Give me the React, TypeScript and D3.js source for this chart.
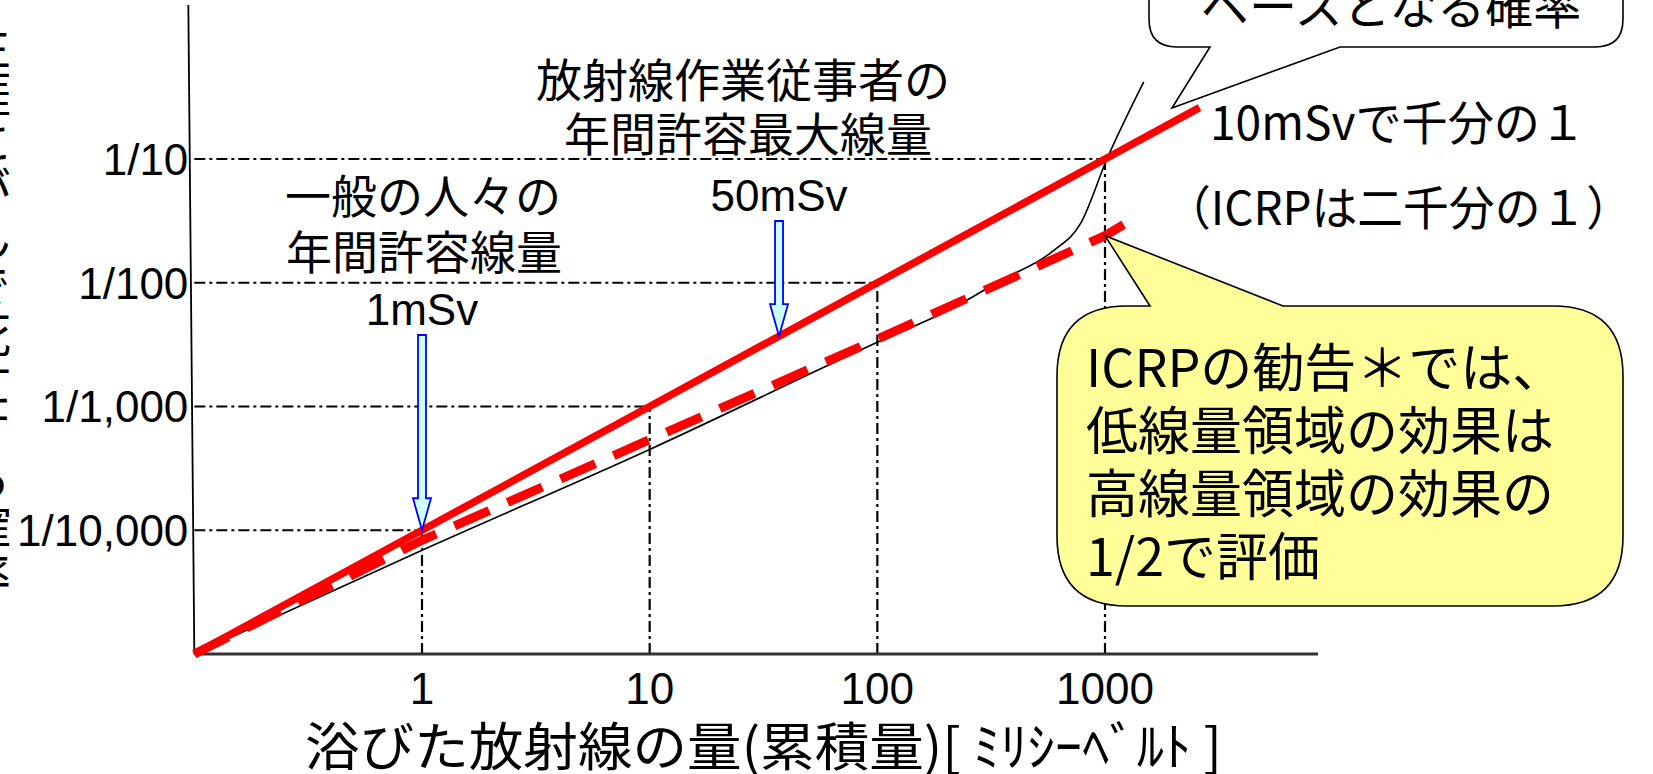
import React from 'react';
import * as d3 from 'd3';

const W = 1653;
const H = 774;

// axis ticks (dose in mSv, risk as probability)
const doseTicks = [1, 10, 100, 1000];
const doseTickLabels = ['1', '10', '100', '1000'];
const riskTicks = [1e-4, 1e-3, 1e-2, 1e-1];
const riskTickLabels = ['1/10,000', '1/1,000', '1/100', '1/10'];

// straight proportional line (solid red)
const lntDose = [0.1, 1, 10, 100, 1000, 2600];
const lntRisk = [1e-5, 1e-4, 1e-3, 1e-2, 1e-1, 0.26];

// ICRP line (dashed red)
const icrpDose = [0.1, 1, 10, 100, 1000, 1300];
const icrpRisk = [1e-5, 8.3e-5, 5.4e-4, 3.5e-3, 0.024, 0.032];

// thin black curve
const curveDose = [0.1, 1, 10, 100, 220, 350, 590, 780, 1020, 1480];
const curveRisk = [1e-5, 6.9e-5, 4.5e-4, 3.3e-3, 6.4e-3, 0.0105, 0.018, 0.03, 0.1, 0.42];

// arrows pointing at the solid line
const arrowDose = [1, 37];
const arrowLabels = ['1mSv', '50mSv'];
const arrowTop = [335, 221];

const jp = '"Noto Sans CJK JP", sans-serif';
const latin = '"Liberation Sans", Arial, sans-serif';

const App: React.FC = () => {
    const x = d3.scaleLog().domain([1, 1000]).range([422, 1105]);
    const y = d3.scaleLog().domain([1e-5, 1e-1]).range([654, 159]);

    const x0 = x(0.1);
    const y0 = y(1e-5);

    const line = d3.line<[number, number]>()
        .x(d => x(d[0]))
        .y(d => y(d[1]));
    const smooth = d3.line<[number, number]>()
        .x(d => x(d[0]))
        .y(d => y(d[1]))
        .curve(d3.curveMonotoneX);

    const lnt = lntDose.map((d, i) => [d, lntRisk[i]] as [number, number]);
    const icrp = icrpDose.map((d, i) => [d, icrpRisk[i]] as [number, number]);
    const curve = curveDose.map((d, i) => [d, curveRisk[i]] as [number, number]);

    // risk on the solid line for a given dose (slope 1 in log-log)
    const lntAt = (dose: number) => dose * 1e-4;

    const arrowPath = (cx: number, top: number, tip: number) => {
        const head = tip - 32;
        return `M${cx - 4},${top} H${cx + 4} V${head} H${cx + 9} L${cx},${tip} L${cx - 9},${head} H${cx - 4} Z`;
    };

    // top callout (white)
    const c1 = { l: 1149, r: 1623, t: -60, b: 47, rad: 28, b1: 1210, b2: 1340, tx: 1172, ty: 108 };
    const callout1 = `M${c1.l + c1.rad},${c1.t} H${c1.r - c1.rad} Q${c1.r},${c1.t} ${c1.r},${c1.t + c1.rad} V${c1.b - c1.rad} Q${c1.r},${c1.b} ${c1.r - c1.rad},${c1.b} H${c1.b2} L${c1.tx},${c1.ty} L${c1.b1},${c1.b} H${c1.l + c1.rad} Q${c1.l},${c1.b} ${c1.l},${c1.b - c1.rad} V${c1.t + c1.rad} Q${c1.l},${c1.t} ${c1.l + c1.rad},${c1.t} Z`;

    // yellow callout pointing at the dashed line at 1000 mSv
    const c2 = { l: 1057, r: 1623, t: 306, b: 606, rad: 70, b1: 1150, b2: 1283 };
    const tip2x = x(1000);
    const tip2y = y(icrpRisk[4]);
    const callout2 = `M${c2.l + c2.rad},${c2.t} H${c2.b1} L${tip2x},${tip2y} L${c2.b2},${c2.t} H${c2.r - c2.rad} Q${c2.r},${c2.t} ${c2.r},${c2.t + c2.rad} V${c2.b - c2.rad} Q${c2.r},${c2.b} ${c2.r - c2.rad},${c2.b} H${c2.l + c2.rad} Q${c2.l},${c2.b} ${c2.l},${c2.b - c2.rad} V${c2.t + c2.rad} Q${c2.l},${c2.t} ${c2.l + c2.rad},${c2.t} Z`;

    const guideStyle = { stroke: '#000', strokeWidth: 2.2, strokeDasharray: '11 4 3 4', fill: 'none' };

    return (
        <svg width={W} height={H} style={{ position: 'absolute', left: 0, top: 0, background: '#fff' }}>
            {/* y axis title, mostly cut off at the left edge */}
            <text x={-13} y={22} fontFamily={jp} fontSize={48} style={{ writingMode: 'vertical-rl' }}>
                生涯にがんで死亡する確率
            </text>

            {/* guides */}
            {doseTicks.map((d, i) => (
                <g key={d}>
                    <line x1={x0} x2={x(d)} y1={y(riskTicks[i])} y2={y(riskTicks[i])} style={guideStyle} />
                    <line x1={x(d)} x2={x(d)} y1={y0} y2={y(lntAt(d))} style={guideStyle} />
                </g>
            ))}

            {/* axes */}
            <line x1={x0 - 6} y1={5} x2={x0} y2={y0} stroke="#000" strokeWidth={1.8} />
            <line x1={x0} y1={y0} x2={1318} y2={y0} stroke="#333" strokeWidth={3} />

            {riskTicks.map((r, i) => (
                <text key={r} x={x0 - 6} y={y(r)} dy="0.36em" textAnchor="end" fontFamily={latin} fontSize={44}>
                    {riskTickLabels[i]}
                </text>
            ))}
            {doseTicks.map((d, i) => (
                <text key={d} x={x(d)} y={704} textAnchor="middle" fontFamily={latin} fontSize={44}>
                    {doseTickLabels[i]}
                </text>
            ))}
            <text x={305} y={766} fontFamily={jp} fontSize={52} textLength={917} lengthAdjust="spacingAndGlyphs">
                浴びた放射線の量(累積量)[ ﾐﾘｼｰﾍﾞﾙﾄ ]
            </text>

            {/* lines */}
            <path d={smooth(curve) || ''} fill="none" stroke="#000" strokeWidth={1.6} />
            <path d={line(icrp) || ''} fill="none" stroke="#ff0000" strokeWidth={9} strokeDasharray="38 20" />
            <path d={line(lnt) || ''} fill="none" stroke="#ff0000" strokeWidth={7.5} />

            {/* arrows */}
            {arrowDose.map((d, i) => (
                <g key={d}>
                    <path d={arrowPath(x(d), arrowTop[i], y(lntAt(d)))} fill="#ccffff" stroke="#0000ff" strokeWidth={1.8} />
                    <text x={x(d)} y={arrowTop[i] - 10} textAnchor="middle" fontFamily={latin} fontSize={44}>
                        {arrowLabels[i]}
                    </text>
                </g>
            ))}

            {/* annotations */}
            <text x={743} y={97} textAnchor="middle" fontFamily={jp} fontSize={46}>放射線作業従事者の</text>
            <text x={748} y={151} textAnchor="middle" fontFamily={jp} fontSize={46}>年間許容最大線量</text>
            <text x={423} y={213} textAnchor="middle" fontFamily={jp} fontSize={46}>一般の人々の</text>
            <text x={424} y={269} textAnchor="middle" fontFamily={jp} fontSize={46}>年間許容線量</text>

            <path d={callout1} fill="#fff" stroke="#000" strokeWidth={1.6} />
            <text x={1201} y={24} fontFamily={jp} fontSize={48}>ベースとなる確率</text>

            <text x={1210} y={140} fontFamily={jp} fontSize={47} textLength={376} lengthAdjust="spacingAndGlyphs">10mSvで千分の１</text>
            <text x={1165} y={225} fontFamily={jp} fontSize={47} textLength={467} lengthAdjust="spacingAndGlyphs">（ICRPは二千分の１）</text>

            <path d={callout2} fill="#ffff99" stroke="#000" strokeWidth={1.6} />
            <text fontFamily={jp} fontSize={52}>
                <tspan x={1086} y={387}>ICRPの勧告＊では、</tspan>
                <tspan x={1086} y={450}>低線量領域の効果は</tspan>
                <tspan x={1086} y={513}>高線量領域の効果の</tspan>
                <tspan x={1086} y={576}>1/2で評価</tspan>
            </text>
        </svg>
    );
};

export default App;
